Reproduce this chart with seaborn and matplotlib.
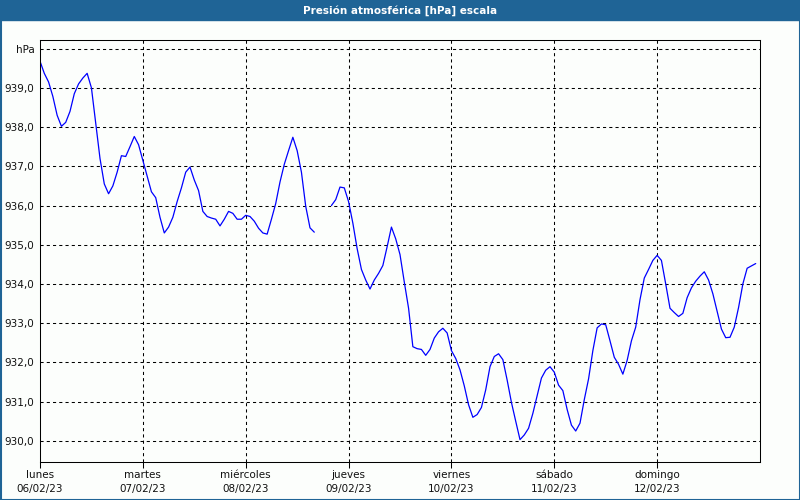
import numpy as np
import pandas as pd
import matplotlib
matplotlib.use("Agg")
import matplotlib.pyplot as plt
import seaborn as sns

# ---- data (hourly pressure, hPa) ----
day_names = ["lunes", "martes", "miércoles", "jueves", "viernes", "sábado", "domingo"]
day_dates = ["06/02/23", "07/02/23", "08/02/23", "09/02/23", "10/02/23", "11/02/23", "12/02/23"]
y_ticks = [930, 931, 932, 933, 934, 935, 936, 937, 938, 939, 940]
y_tick_labels = ["930,0", "931,0", "932,0", "933,0", "934,0", "935,0", "936,0",
                 "937,0", "938,0", "939,0", "hPa"]

pressure_seg1 = [
    939.68, 939.37, 939.15, 938.78, 938.30, 938.02, 938.12, 938.40, 938.85, 939.10,
    939.25, 939.37, 939.00, 938.10, 937.20, 936.55, 936.30, 936.50, 936.85, 937.27,
    937.25, 937.50, 937.76, 937.55, 937.15, 936.75, 936.35, 936.20, 935.70, 935.30,
    935.45, 935.70, 936.10, 936.45, 936.85, 936.98, 936.65, 936.38, 935.85, 935.72,
    935.68, 935.65, 935.48, 935.65, 935.85, 935.80, 935.65, 935.65, 935.75, 935.72,
    935.60, 935.42, 935.30, 935.27, 935.65, 936.05, 936.60, 937.05, 937.40, 937.74,
    937.40, 936.85, 935.98, 935.43, 935.32,
]  # hours 0..64
pressure_seg2 = [
    936.00, 936.15, 936.47, 936.45, 936.10, 935.55, 934.90, 934.37, 934.10, 933.87,
    934.10, 934.27, 934.47, 934.95, 935.45, 935.15, 934.75, 934.05, 933.38, 932.40,
    932.35, 932.33, 932.18, 932.33, 932.62, 932.78, 932.87, 932.75, 932.30, 932.10,
    931.81, 931.40, 930.92, 930.60, 930.67, 930.85, 931.30, 931.89, 932.15, 932.22,
    932.07, 931.55, 930.98, 930.50, 930.03, 930.15, 930.32, 930.70, 931.15, 931.60,
    931.80, 931.89, 931.75, 931.42, 931.28, 930.80, 930.40, 930.25, 930.45, 931.05,
    931.58, 932.30, 932.88, 932.98, 932.96, 932.55, 932.13, 931.95, 931.70, 932.05,
    932.55, 932.90, 933.60, 934.15, 934.37, 934.60, 934.73, 934.60, 934.00, 933.38,
    933.27, 933.17, 933.25, 933.65, 933.90, 934.07, 934.20, 934.31, 934.10, 933.75,
    933.30, 932.85, 932.63, 932.64, 932.90, 933.40, 934.00, 934.40, 934.46, 934.52,
]  # hours 68..167
seg1_start_hour = 0
seg2_start_hour = 68

hours = list(range(seg1_start_hour, seg1_start_hour + len(pressure_seg1))) + \
        list(range(seg2_start_hour, seg2_start_hour + len(pressure_seg2)))
df = pd.DataFrame({
    "day": np.array(hours) / 24.0,
    "hPa": pressure_seg1 + pressure_seg2,
    "seg": [1] * len(pressure_seg1) + [2] * len(pressure_seg2),
})

# ---- styling ----
sns.set_theme(style="white")
plt.rcParams["font.family"] = ["DejaVu Sans"]
BG = "#fcfefc"
BAR = "#1f6496"
LW = 0.75  # ~1 px

fig = plt.figure(figsize=(8, 5), dpi=100, facecolor=BG)
ax = fig.add_axes([40 / 800, 1 - 462 / 500, 720 / 800, 422 / 500])
ax.set_facecolor(BG)

sns.lineplot(data=df, x="day", y="hPa", units="seg", estimator=None,
             color="#0000ff", linewidth=0.9, ax=ax, legend=False)

ax.set_xlim(0, 7)
ax.set_ylim(929.46, 940.22)

ax.set_yticks(y_ticks)
ax.set_yticklabels(y_tick_labels)
ax.set_xticks(range(7))
ax.set_xticklabels([f"{n}\n{d}" for n, d in zip(day_names, day_dates)],
                   linespacing=1.45)
ax.tick_params(axis="y", length=0, pad=4, labelsize=7.5, labelcolor="#111111")
ax.tick_params(axis="x", length=4, width=LW, color="black", direction="out",
               pad=2, labelsize=7.5, labelcolor="#111111", bottom=True)
ax.set_xlabel("")
ax.set_ylabel("")

for v in y_ticks:
    ax.axhline(v, color="black", linestyle=(0, (3, 3)), linewidth=LW, zorder=0)
for d in range(1, 7):
    ax.axvline(d, color="black", linestyle=(0, (3, 3)), linewidth=LW, zorder=0)

for s in ax.spines.values():
    s.set_visible(True)
    s.set_color("black")
    s.set_linewidth(LW)

# title bar
fig.patches.append(plt.Rectangle((0, 1 - 20 / 500), 1, 20 / 500,
                                 transform=fig.transFigure, color=BAR, zorder=0))
fig.text(0.5, 1 - 10.5 / 500, "Presión atmosférica [hPa] escala", color="white",
         ha="center", va="center", fontsize=7.5, fontweight="bold")
# outer frame
fig.patches.append(plt.Rectangle((0.5 / 800, 0.5 / 500), 799 / 800, 499 / 500,
                                 transform=fig.transFigure, fill=False,
                                 edgecolor=BAR, linewidth=1.5, zorder=5))

fig.savefig("out.png", dpi=100, facecolor=BG)
